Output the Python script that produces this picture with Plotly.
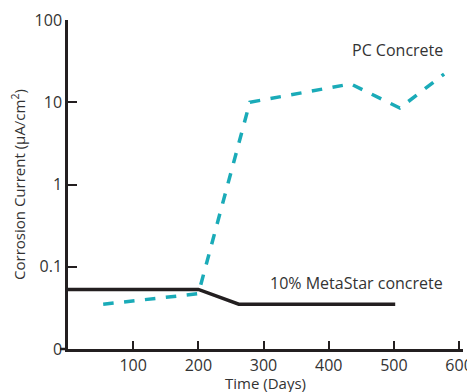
import plotly.graph_objects as go

# PC Concrete series
pc_days = [54, 200, 279, 434, 509, 577]
pc_current = [0.035, 0.047, 10, 16.7, 8.5, 22]

# 10% MetaStar concrete series
ms_days = [0, 200, 262, 502]
ms_current = [0.053, 0.053, 0.035, 0.035]

x_tickvals = [100, 200, 300, 400, 500, 600]
y_tickvals = [100, 10, 1, 0.1, 0.01]
y_ticktext = ["100", "10", "1", "0.1", "0"]

FONT = "Open Sans"
TXT = "#333333"
AX = "#231f20"
# page has an 8px body margin, so the figure is drawn 8px smaller
FIG_W, FIG_H = 467, 384
ML, MR, MT, MB = 60, 12, 12, 43
PLOT_W = FIG_W - ML - MR
PLOT_H = FIG_H - MT - MB

fig = go.Figure()
fig.add_trace(go.Scatter(x=pc_days, y=pc_current, mode="lines",
                         line=dict(color="#1aabb8", width=3.5, dash="dash"),
                         showlegend=False, hoverinfo="skip"))
fig.add_trace(go.Scatter(x=ms_days, y=ms_current, mode="lines",
                         line=dict(color="#231f20", width=3.5),
                         showlegend=False, hoverinfo="skip"))

fig.add_annotation(x=578, y=1.64, xref="x", yref="y", text="PC Concrete",
                   showarrow=False, xanchor="right", yanchor="middle",
                   font=dict(family=FONT, size=16, color=TXT))
fig.add_annotation(x=578, y=-1.2, xref="x", yref="y", text="10% MetaStar concrete",
                   showarrow=False, xanchor="right", yanchor="middle",
                   font=dict(family=FONT, size=16, color=TXT))
fig.add_annotation(x=0.5, y=-34 / PLOT_H, xref="paper", yref="paper", text="Time (Days)",
                   showarrow=False, xanchor="center", yanchor="middle",
                   font=dict(family=FONT, size=15, color=TXT))

# small stub of the x-axis line to the left of the y-axis
fig.add_shape(type="line", xref="paper", yref="paper", x0=-8 / PLOT_W, x1=0, y0=0, y1=0,
              line=dict(color=AX, width=2.5))

fig.update_layout(
    width=FIG_W, height=FIG_H,
    margin=dict(l=ML, r=MR, t=MT, b=MB),
    paper_bgcolor="white", plot_bgcolor="white",
    font=dict(family=FONT, size=16, color=TXT),
    xaxis=dict(range=[0, 606], tickvals=x_tickvals, ticks="inside", ticklen=8,
               tickwidth=2, tickcolor=AX, showline=True, linecolor=AX, linewidth=2.5,
               showgrid=False, zeroline=False, automargin=False,
               tickfont=dict(size=16)),
    yaxis=dict(type="log", range=[-2, 2], tickvals=y_tickvals, ticktext=y_ticktext,
               ticks="inside", ticklen=9, tickwidth=2, tickcolor=AX,
               showline=True, linecolor=AX, linewidth=2.5, showgrid=False, zeroline=False,
               automargin=False,
               title=dict(text="Corrosion Current (µA/cm<sup>2</sup>)", standoff=6,
                          font=dict(size=15)),
               tickfont=dict(size=16)),
)

fig.write_html("out.html")
